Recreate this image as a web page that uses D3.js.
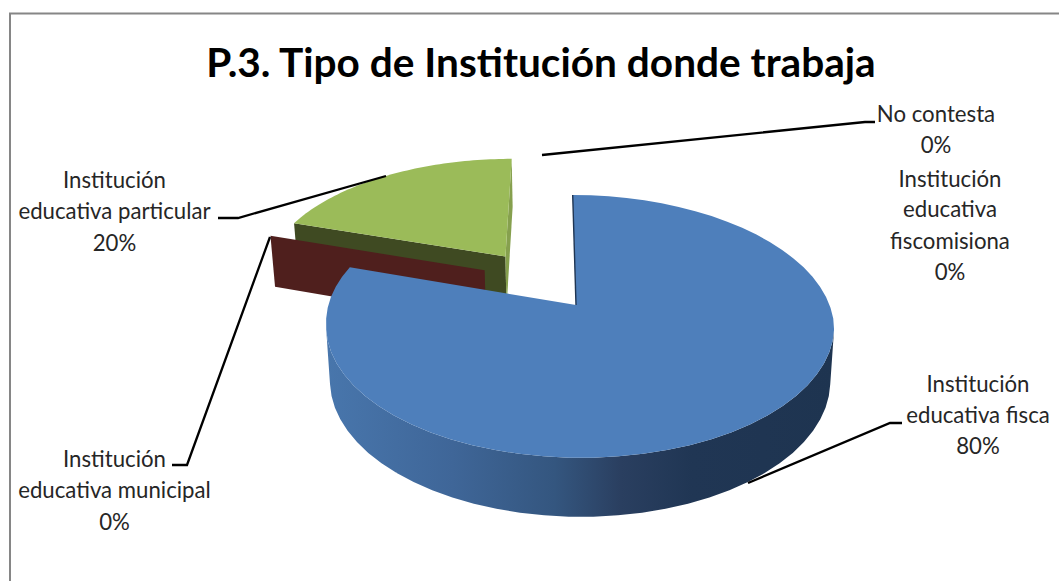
<!DOCTYPE html>
<html>
<head>
<meta charset="utf-8">
<script src="https://cdn.jsdelivr.net/npm/d3@7"></script>
<style>
  html, body { margin: 0; background: #fff; }
  svg { display: block; }
  text { font-family: Lato, "Open Sans", sans-serif; }
</style>
</head>
<body>
<svg width="1059" height="581"></svg>
<script>
const categories = [
  'Institución educativa fisca',
  'Institución educativa municipal',
  'Institución educativa particular',
  'Institución educativa fiscomisiona',
  'No contesta'
]
const values = [80, 0, 20, 0, 0]
const percentLabels = ['80%', '0%', '20%', '0%', '0%']
const titleText = 'P.3. Tipo de Institución donde trabaja'

const sliceColors = ['#4e7fbb', '#c0504d', '#9bbb59']
const wallColors = ['#1f3552', '#4f1f1d', '#3f4a22']

const svg = d3.select('svg')
const width = +svg.attr('width')
const height = +svg.attr('height')

// perspective of the pie plane, fitted to the picture
const cx = 576, cy = 305, rx = 250.6, ry = 127.9, persp = 0.163
const depth = 53.7, depthPersp = 0.09, lean = 0.03, shrink = 0.985

function project(u, v) {
  const w = 1 + persp * v
  const y = cy - ry * v / w
  return [cx + rx * u / w - (cy - y) * lean, y]
}
function projectLow(u, v) {
  const p = project(u, v)
  return [cx + (p[0] - cx) * shrink, p[1] + depth / (1 + depthPersp * v)]
}
// the big slice sits a little further right at its widest
function bulged(fn) {
  return (u, v) => {
    const p = fn(u, v)
    if (u * u + v * v > 0.5) p[0] += 3.5 * Math.max(0, 1 - Math.abs(v + 0.16))
    return p
  }
}

const pie = d3.pie().sort(null).value(d => d)
const arcs = pie(values)

// offset of each exploded slice, length and direction on the plane
const explode = [
  { d: 0, a: 0 },
  { d: 0.472, a: 307 * Math.PI / 180 },
  { d: 0.5, a: 324 * Math.PI / 180 }
]

function rim(arc, i, fn) {
  const e = explode[i]
  const ox = e.d * Math.sin(e.a), oy = e.d * Math.cos(e.a)
  const steps = d3.range(0, 61).map(k => arc.startAngle + (arc.endAngle - arc.startAngle) * k / 60)
  return {
    apex: fn(ox, oy),
    points: steps.map(t => fn(ox + Math.sin(t), oy + Math.cos(t)))
  }
}

const line = d3.line()

// side wall shading runs left to right
const defs = svg.append('defs')
const grad = defs.append('linearGradient')
  .attr('id', 'wall')
  .attr('gradientUnits', 'userSpaceOnUse')
  .attr('x1', 326).attr('x2', 834).attr('y1', 0).attr('y2', 0)
grad.selectAll('stop')
  .data([[0, '#4876ac'], [0.25, '#3f6698'], [0.45, '#34567f'], [0.58, '#2a3f60'], [0.72, '#203654'], [1, '#1e3450']])
  .join('stop')
  .attr('offset', d => d[0])
  .attr('stop-color', d => d[1])

// frame, runs off the right and bottom of the picture
svg.append('rect')
  .attr('x', 10).attr('y', 13.5)
  .attr('width', width + 10).attr('height', height)
  .attr('fill', '#fff')
  .attr('stroke', '#868686')
  .attr('stroke-width', 2)

svg.append('text')
  .attr('x', 541).attr('y', 77)
  .attr('text-anchor', 'middle')
  .attr('font-size', 40.6)
  .attr('font-weight', 700)
  .attr('fill', '#000')
  .text(titleText)

const pieG = svg.append('g')

// green slice, at the back
{
  const top = rim(arcs[2], 2, project)
  const low = rim(arcs[2], 2, projectLow)
  pieG.append('path')
    .attr('d', line([top.apex, top.points[0], low.points[0], low.apex]) + 'Z')
    .attr('fill', wallColors[2])
  pieG.append('path')
    .attr('d', line([top.apex, top.points[60], low.points[60], low.apex]) + 'Z')
    .attr('fill', '#86a04e')
  pieG.append('path')
    .attr('d', line([top.apex, ...top.points]) + 'Z')
    .attr('fill', sliceColors[2])
}

// the 0% slice only shows one radial face
{
  const top = rim(arcs[1], 1, project)
  const low = rim(arcs[1], 1, projectLow)
  pieG.append('path')
    .attr('d', line([top.apex, top.points[0], low.points[0], low.apex]) + 'Z')
    .attr('fill', wallColors[1])
}

// blue slice in front, the wall is all the facing quads in a single path so no seams show
{
  const top = rim(arcs[0], 0, bulged(project))
  const low = rim(arcs[0], 0, bulged(projectLow))
  const quads = d3.range(60)
    .map(k => [top.points[k], top.points[k + 1], low.points[k + 1], low.points[k]])
    .filter(q => d3.polygonArea(q) > 0)
  pieG.append('path')
    .attr('d', quads.map(q => line(q) + 'Z').join(''))
    .attr('fill', 'url(#wall)')
  pieG.append('path')
    .attr('d', line([top.apex, ...top.points]) + 'Z')
    .attr('fill', sliceColors[0])
  pieG.append('path')
    .attr('d', line([top.points[0], top.apex]))
    .attr('fill', 'none')
    .attr('stroke', wallColors[0])
    .attr('stroke-width', 1.4)
}

// labels and leader lines, in label order
const labelLayout = [
  { x: 978, y: [384, 415, 446], lines: ['Institución', 'educativa fisca'], leader: [[748, 483], [890, 423], [902, 423]] },
  { x: 114.5, y: [459, 490, 522], lines: ['Institución', 'educativa municipal'], leader: [[270, 237], [187, 465], [172, 465]] },
  { x: 114.5, y: [180, 211, 243], lines: ['Institución', 'educativa particular'], leader: [[386, 176], [238, 218], [218, 218]] },
  { x: 950, y: [179, 209, 241, 272], lines: ['Institución', 'educativa', 'fiscomisiona'] },
  { x: 936, y: [114, 145], lines: ['No contesta'], leader: [[542, 155], [865, 122], [875, 122]] }
]

categories.forEach((c, i) => {
  const l = labelLayout[i]
  const rows = [...l.lines, percentLabels[i]]
  svg.append('g')
    .selectAll('text')
    .data(rows)
    .join('text')
    .attr('x', l.x)
    .attr('y', (d, k) => l.y[k])
    .attr('dy', '0.35em')
    .attr('text-anchor', 'middle')
    .attr('font-size', 22.2)
    .attr('fill', '#262626')
    .text(d => d)
  if (l.leader) {
    svg.append('path')
      .attr('d', line(l.leader))
      .attr('fill', 'none')
      .attr('stroke', '#000')
      .attr('stroke-width', 2.3)
  }
})
</script>
</body>
</html>
